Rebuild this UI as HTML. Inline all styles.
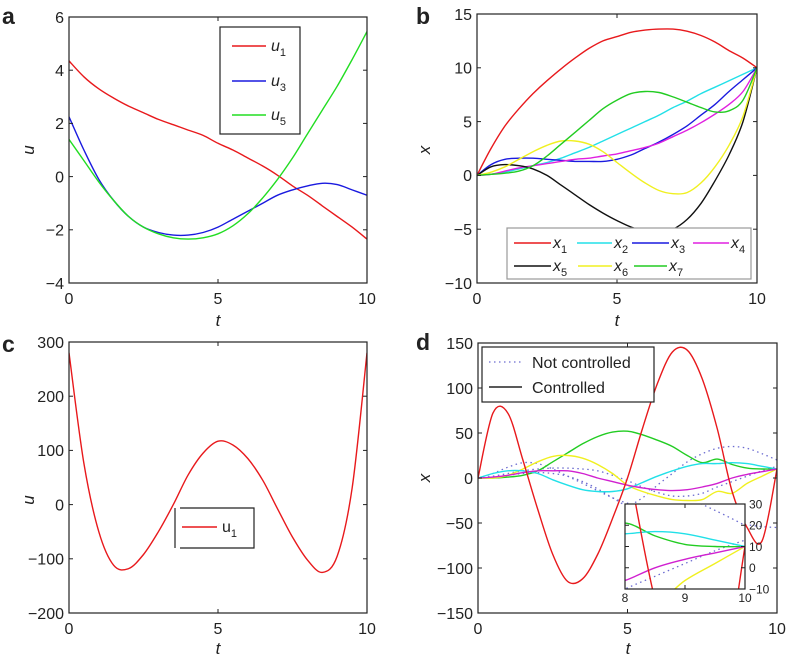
<!DOCTYPE html>
<html><head><meta charset="utf-8"><style>
html,body{margin:0;padding:0;background:#fff;width:788px;height:660px;overflow:hidden;}
svg{display:block;font-family:"Liberation Sans",Arial,sans-serif;overflow:hidden;}
</style></head><body>
<svg id="fig" width="788" height="660" viewBox="0 0 788 660"></svg>
<script>
const T = [0,0.5,1,1.5,2,2.5,3,3.5,4,4.5,5,5.5,6,6.5,7,7.5,8,8.5,9,9.5,10];
// panel a
const aU1 = [4.35,3.75,3.3,2.95,2.65,2.4,2.15,1.95,1.75,1.55,1.25,1.0,0.7,0.4,0.05,-0.35,-0.7,-1.1,-1.5,-1.9,-2.35];
const aU3 = [2.25,1.0,-0.1,-0.9,-1.5,-1.9,-2.1,-2.2,-2.2,-2.1,-1.9,-1.6,-1.3,-1.0,-0.7,-0.5,-0.35,-0.25,-0.3,-0.5,-0.7];
const aU5 = [1.4,0.6,-0.2,-0.9,-1.5,-1.9,-2.15,-2.3,-2.35,-2.3,-2.15,-1.85,-1.4,-0.8,-0.1,0.7,1.6,2.5,3.4,4.4,5.45];
const aYTicks = [-4,-2,0,2,4,6];
// panel b
const bX1 = [0,2.5,4.6,6.2,7.6,8.8,9.9,10.9,11.8,12.5,12.9,13.3,13.5,13.6,13.6,13.4,13.0,12.4,11.6,10.9,10.0];
const bX2 = [0,0.1,0.3,0.6,0.9,1.2,1.6,2.1,2.6,3.2,3.8,4.4,5.0,5.6,6.3,6.9,7.6,8.2,8.8,9.4,10];
const bX3 = [0,1.0,1.5,1.6,1.6,1.5,1.4,1.3,1.3,1.3,1.5,1.9,2.5,3.1,3.8,4.6,5.6,6.6,7.8,8.9,10];
const bX4 = [0,0.1,0.4,0.7,0.9,1.1,1.3,1.5,1.6,1.8,2.0,2.3,2.6,3.0,3.6,4.2,4.9,5.7,6.6,7.8,10];
const bX5 = [0,0.8,1.0,0.9,0.6,0,-0.9,-1.8,-2.7,-3.5,-4.2,-4.8,-5.2,-5.3,-5.0,-4.1,-2.6,-0.5,1.9,5.0,10];
const bX6 = [0,0.3,0.8,1.5,2.2,2.8,3.2,3.2,2.9,2.2,1.2,0.2,-0.7,-1.4,-1.7,-1.6,-0.7,0.8,2.8,5.5,10];
const bX7 = [0,0.1,0.2,0.4,0.9,1.8,2.9,4.0,5.1,6.2,7.0,7.6,7.8,7.7,7.3,6.8,6.3,5.9,6.0,7.0,10];
const bYTicks = [-10,-5,0,5,10,15];
// panel c
const cU1 = [280,76,-50,-112,-118,-92,-50,0,55,95,117,110,85,45,-8,-60,-102,-125,-95,30,280];
const cYTicks = [-200,-100,0,100,200,300];
// panel d
const dRed = [0,72,72,20,-35,-85,-115,-112,-85,-45,0,55,105,140,142,110,55,-15,-55,-70,10];
const dGreen = [0,0,1,3,8,18,28,38,46,51,52,48,42,35,25,17,21,15,11,10,10];
const dYellow = [0,0,3,10,18,24,25,22,15,5,-8,-15,-20,-24,-25,-24,-15,-17,-6,2,10];
const dCyan = [0,5,8,8,5,-2,-8,-13,-15,-15,-12,-5,2,8,13,16,16,17,16,13,10];
const dMagenta = [0,1,3,6,8,8,8,5,0,-4,-8,-11,-13,-14,-13,-10,-6,0,4,7,10];
const dDotA = [0,5,12,17,16,10,2,-6,-14,-22,-28,-32,-36,-40,-43,-46,-48,-50,-52,-54,-55];
const dDotB = [0,2,5,8,10,11,11,10,8,3,-3,-10,-16,-20,-20,-17,-10,-4,2,8,13];
const dDotC = [0,1,3,5,6,5,2,-4,-12,-22,-30,-22,-8,5,18,27,33,35,33,27,20];
const dYTicks = [-150,-100,-50,0,50,100,150];
const insetYTicks = [-10,0,10,20,30];
const insetXTicks = [8,9,10];
const xTicks = [0,5,10];

const NS='http://www.w3.org/2000/svg';
const svg=document.getElementById('fig');
function el(tag,attrs,parent,text){const e=document.createElementNS(NS,tag);for(const k in attrs)e.setAttribute(k,attrs[k]);if(text!==undefined)e.textContent=text;(parent||svg).appendChild(e);return e;}
function smooth(pts){let d='M'+pts[0][0].toFixed(1)+','+pts[0][1].toFixed(1);
 for(let i=0;i<pts.length-1;i++){const p0=pts[Math.max(0,i-1)],p1=pts[i],p2=pts[i+1],p3=pts[Math.min(pts.length-1,i+2)];
 const c1=[p1[0]+(p2[0]-p0[0])/6,p1[1]+(p2[1]-p0[1])/6],c2=[p2[0]-(p3[0]-p1[0])/6,p2[1]-(p3[1]-p1[1])/6];
 d+=' C'+c1[0].toFixed(1)+','+c1[1].toFixed(1)+' '+c2[0].toFixed(1)+','+c2[1].toFixed(1)+' '+p2[0].toFixed(1)+','+p2[1].toFixed(1);}return d;}
function axes(L,R,Tp,B,xmin,xmax,ymin,ymax){return{x:v=>L+(v-xmin)/(xmax-xmin)*(R-L),y:v=>B-(v-ymin)/(ymax-ymin)*(B-Tp)};}
function frame(g,L,R,Tp,B,sx,sy,yt,xt,yLabelRight,fs){
 el('rect',{x:L,y:Tp,width:R-L,height:B-Tp,fill:'none',stroke:'#222','stroke-width':1.2},g);
 xt.forEach(v=>{const x=sx(v);el('line',{x1:x,x2:x,y1:B,y2:B-4,stroke:'#222'},g);el('line',{x1:x,x2:x,y1:Tp,y2:Tp+4,stroke:'#222'},g);
  const t=el('text',{x:x,y:B+(fs>12?21:13),'text-anchor':'middle','font-size':fs,fill:'#222'},g,String(v));
  });
 yt.forEach(v=>{const y=sy(v);el('line',{x1:L,x2:L+4,y1:y,y2:y,stroke:'#222'},g);el('line',{x1:R,x2:R-4,y1:y,y2:y,stroke:'#222'},g);
  const t=el('text',{x:yLabelRight?R+4:L-5,y:y+fs*0.36,'text-anchor':yLabelRight?'start':'end','font-size':fs,fill:'#222'},g,String(v).replace('-','\u2212'));
  });}
function series(g,sx,sy,xs,ys,color,name,dash,clip){const p=el('path',{d:smooth(xs.map((t,i)=>[sx(t),sy(ys[i])])),fill:'none',stroke:color,'stroke-width':dash?1.3:1.4},g);
 if(dash)p.setAttribute('stroke-dasharray',dash);if(clip)p.setAttribute('clip-path',clip);
 return p;}
function txt(g,x,y,s,attrs,name){const t=el('text',Object.assign({x:x,y:y,fill:'#222'},attrs),g,s);return t;}
function sub(g,x,y,base,subs,name,italic){const t=el('text',{x:x,y:y,'font-size':16,fill:'#222'},g);
 el('tspan',{'font-style':italic?'italic':'normal'},t,base);el('tspan',{dy:5,'font-size':11},t,subs);return t;}
const defs=el('defs',{});
function clipRect(id,L,R,Tp,B){const c=el('clipPath',{id:id},defs);el('rect',{x:L,y:Tp,width:R-L,height:B-Tp},c);return 'url(#'+id+')';}

// ===== Panel a =====
let g=el('g',{});
let A=axes(69,367,17,283,0,10,-4,6);
let cl=clipRect('ca',69,367,17,283);
series(g,A.x,A.y,T,aU1,'#e8191c','line-u1',null,cl);
series(g,A.x,A.y,T,aU3,'#1a1adf','line-u3',null,cl);
series(g,A.x,A.y,T,aU5,'#22dd22','line-u5',null,cl);
frame(g,69,367,17,283,A.x,A.y,aYTicks,xTicks,false,16);
txt(g,2,24,'a',{'font-size':23,'font-weight':'bold'},'panel-label-a');
txt(g,218,326,'t',{'font-size':17,'font-style':'italic','text-anchor':'middle'},'x-axis-title');
txt(g,0,0,'u',{'font-size':17,'font-style':'italic','text-anchor':'middle',transform:'translate(34,150) rotate(-90)'},'y-axis-title');
let lg=el('g',{},g);
el('rect',{x:220,y:27,width:80,height:107,fill:'#fff',stroke:'#222','stroke-width':1.2},lg);
[['#e8191c','1',46],['#1a1adf','3',81],['#22dd22','5',115]].forEach(e=>{el('line',{x1:232,x2:266,y1:e[2],y2:e[2],stroke:e[0],'stroke-width':1.4},lg);sub(lg,271,e[2]+5,'u',e[1],'legend-entry',true);});

// ===== Panel b =====
g=el('g',{});
let B_=axes(477,757,14,283,0,10,-10,15);
cl=clipRect('cb',477,757,14,283);
const bSeries=[[bX1,'#e8191c'],[bX2,'#22e0e8'],[bX3,'#1a1adf'],[bX4,'#e020e0'],[bX5,'#111'],[bX6,'#f0f020'],[bX7,'#22cc22']];
bSeries.forEach((s,i)=>series(g,B_.x,B_.y,T,s[0],s[1],'line-x'+(i+1),null,cl));
frame(g,477,757,14,283,B_.x,B_.y,bYTicks,xTicks,false,16);
txt(g,416,24,'b',{'font-size':23,'font-weight':'bold'},'panel-label-b');
txt(g,617,326,'t',{'font-size':17,'font-style':'italic','text-anchor':'middle'},'x-axis-title');
txt(g,0,0,'x',{'font-size':17,'font-style':'italic','text-anchor':'middle',transform:'translate(430,150) rotate(-90)'},'y-axis-title');
lg=el('g',{},g);
el('rect',{x:507,y:228,width:244,height:51,fill:'#fff',stroke:'#999','stroke-width':1.2},lg);
const bLeg=[[514,551,243],[577,612,243],[632,669,243],[693,729,243],[514,551,266],[578,612,266],[634,667,266]];
bLeg.forEach((p,i)=>{el('line',{x1:p[0],x2:p[1],y1:p[2],y2:p[2],stroke:bSeries[i][1],'stroke-width':1.4},lg);sub(lg,p[1]+2,p[2]+5,'x',String(i+1),'legend-entry',true);});

// ===== Panel c =====
g=el('g',{});
let C=axes(69,367,342,613,0,10,-200,300);
cl=clipRect('cc',69,367,342,613);
series(g,C.x,C.y,T,cU1,'#e8191c','line-u1',null,cl);
frame(g,69,367,342,613,C.x,C.y,cYTicks,xTicks,false,16);
txt(g,2,352,'c',{'font-size':23,'font-weight':'bold'},'panel-label-c');
txt(g,218,654,'t',{'font-size':17,'font-style':'italic','text-anchor':'middle'},'x-axis-title');
txt(g,0,0,'u',{'font-size':17,'font-style':'italic','text-anchor':'middle',transform:'translate(34,500) rotate(-90)'},'y-axis-title');
lg=el('g',{},g);
el('rect',{x:180,y:508,width:74,height:40,fill:'#fff',stroke:'none'},lg);
el('polyline',{points:'180,508 254,508 254,548 180,548',fill:'none',stroke:'#222','stroke-width':1.2},lg);
el('line',{x1:175,x2:175,y1:508,y2:548,stroke:'#222','stroke-width':1.2},lg);
el('line',{x1:182,x2:217,y1:527,y2:527,stroke:'#e8191c','stroke-width':1.4},lg);
sub(lg,222,532,'u','1','legend-entry',false);

// ===== Panel d =====
g=el('g',{});
let D=axes(478,777,343,613,0,10,-150,150);
cl=clipRect('cd',478,777,343,613);
const dSeries=[[dDotA,'#6b6bd0','dotted-a','1.5,3.5'],[dDotB,'#6b6bd0','dotted-b','1.5,3.5'],[dDotC,'#6b6bd0','dotted-c','1.5,3.5'],
 [dGreen,'#22cc22','line-green'],[dYellow,'#f0f020','line-yellow'],[dCyan,'#22e0e8','line-cyan'],[dMagenta,'#d020d0','line-magenta'],[dRed,'#e8191c','line-red']];
dSeries.forEach(s=>series(g,D.x,D.y,T,s[0],s[1],s[2],s[3]||null,cl));
frame(g,478,777,343,613,D.x,D.y,dYTicks,xTicks,false,16);
txt(g,416,350,'d',{'font-size':23,'font-weight':'bold'},'panel-label-d');
txt(g,628,654,'t',{'font-size':17,'font-style':'italic','text-anchor':'middle'},'x-axis-title');
txt(g,0,0,'x',{'font-size':17,'font-style':'italic','text-anchor':'middle',transform:'translate(430,478) rotate(-90)'},'y-axis-title');
lg=el('g',{},g);
el('rect',{x:482,y:347,width:172,height:55,fill:'#fff',stroke:'#222','stroke-width':1.2},lg);
el('line',{x1:489,x2:522,y1:362,y2:362,stroke:'#6b6bd0','stroke-width':1.3,'stroke-dasharray':'1.5,3.5'},lg);
txt(lg,532,368,'Not controlled',{'font-size':16},'legend-not-controlled');
el('line',{x1:489,x2:522,y1:387,y2:387,stroke:'#222','stroke-width':1.4},lg);
txt(lg,532,393,'Controlled',{'font-size':16},'legend-controlled');
// inset
let ig=el('g',{},g);
el('rect',{x:625,y:504,width:120,height:85,fill:'#fff'},ig);
let I=axes(625,745,504,589,8,10,-10,30);
let icl=clipRect('ci',625,745,504,589);
dSeries.forEach(s=>series(ig,I.x,I.y,T,s[0],s[1],'inset-'+s[2],s[3]||null,icl));
frame(ig,625,745,504,589,I.x,I.y,insetYTicks,insetXTicks,true,12);
</script>
</body></html>
